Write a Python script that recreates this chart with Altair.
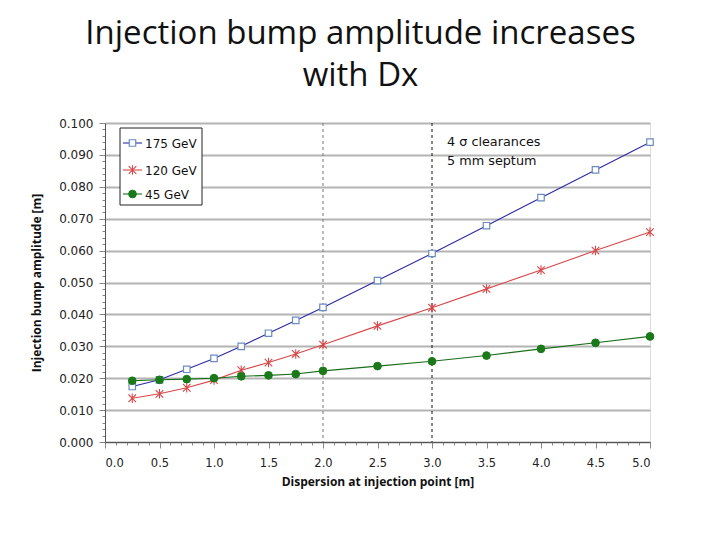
import altair as alt
import pandas as pd

# ---- data ----
x_vals = [0.25, 0.5, 0.75, 1.0, 1.25, 1.5, 1.75, 2.0, 2.5, 3.0, 3.5, 4.0, 4.5, 5.0]
gev175 = [0.0174, 0.0195, 0.0228, 0.0262, 0.0300, 0.0341, 0.0381, 0.0422, 0.0506, 0.0591, 0.0678, 0.0766, 0.0853, 0.0940]
gev120 = [0.0137, 0.0151, 0.0170, 0.0194, 0.0225, 0.0249, 0.0276, 0.0305, 0.0364, 0.0421, 0.0480, 0.0539, 0.0600, 0.0658]
gev45 = [0.0192, 0.0195, 0.0197, 0.0200, 0.0206, 0.0209, 0.0213, 0.0223, 0.0238, 0.0253, 0.0271, 0.0292, 0.0311, 0.0331]
series_names = ["175 GeV", "120 GeV", "45 GeV"]
series_values = [gev175, gev120, gev45]

vline_x = [2.0, 3.0]
vline_colors = ["#777777", "#111111"]

annotation_lines = ["4 σ clearances", "5 mm septum"]
title_lines = ["Injection bump amplitude increases", "with Dx"]

y_ticks = [round(i * 0.002, 3) for i in range(51)]
x_ticks = [round(i * 0.1, 1) for i in range(51)]

# ---- styles ----
STAR = "M0,-1L0,1M-0.8,-0.8L0.8,0.8M-0.8,0.8L0.8,-0.8"
styles = {
    "175 GeV": dict(line="#2a2aa8", shape="square", stroke="#6a8cc0", fill="#ffffff", size=42, filled=True, sw=1.2),
    "120 GeV": dict(line="#d84848", shape=STAR, stroke="#d84848", fill="#d84848", size=90, filled=False, sw=1.1),
    "45 GeV": dict(line="#1a6e1a", shape="circle", stroke="#1a7a1a", fill="#1a7a1a", size=60, filled=True, sw=1),
}

W, H = 545, 319
FONT = "DejaVu Sans"

x_scale = alt.Scale(domain=[0, 5], nice=False, zero=False)
y_scale = alt.Scale(domain=[0, 0.1], nice=False)

x_axis = alt.Axis(
    values=x_ticks,
    labelExpr="abs(datum.value*2 - round(datum.value*2)) < 0.01 ? format(datum.value, '.1f') : ''",
    grid=False,
    tickSize={"condition": {"test": "abs(datum.value*2 - round(datum.value*2)) < 0.01", "value": 6}, "value": 3},
    tickColor="#888888",
    domainColor="#555555",
    labelFont=FONT, labelFontSize=11.5, labelColor="#222222", labelPadding=9,
    title="Dispersion at injection point [m]",
    titleFont="Open Sans", titleFontSize=12, titleFontWeight="bold", titleColor="#111111", titlePadding=8,
)
y_axis = alt.Axis(
    values=y_ticks,
    labelExpr="abs(datum.value*100 - round(datum.value*100)) < 0.01 ? format(datum.value, '.3f') : ''",
    grid=True,
    gridColor="#b4b4b4", gridWidth=2,
    gridOpacity={"condition": {"test": "abs(datum.value*100 - round(datum.value*100)) < 0.01", "value": 1}, "value": 0},
    tickSize={"condition": {"test": "abs(datum.value*100 - round(datum.value*100)) < 0.01", "value": 6}, "value": 3},
    tickColor="#888888",
    domainColor="#555555",
    labelFont=FONT, labelFontSize=12, labelColor="#222222", labelPadding=6,
    title="Injection bump amplitude [m]",
    titleFont="Open Sans", titleFontSize=12, titleFontWeight="bold", titleColor="#111111", titlePadding=15,
)

rows = []
for name, vals in zip(series_names, series_values):
    for xv, yv in zip(x_vals, vals):
        rows.append({"series": name, "x": xv, "y": yv})
df = pd.DataFrame(rows)

base = alt.Chart(df)


def point_mark(chart, st):
    if st["filled"]:
        return chart.mark_point(shape=st["shape"], size=st["size"], filled=True,
                                stroke=st["stroke"], fill=st["fill"], strokeWidth=st["sw"], opacity=1)
    return chart.mark_point(shape=st["shape"], size=st["size"], filled=False,
                            stroke=st["stroke"], strokeWidth=st["sw"], opacity=1)


layers = []
# vertical dashed reference lines
vdf = pd.DataFrame({"x": vline_x, "c": vline_colors})
layers.append(
    alt.Chart(vdf).mark_rule(strokeDash=[3, 3], strokeWidth=1).encode(
        x=alt.X("x:Q", scale=x_scale, axis=x_axis),
        color=alt.Color("c:N", scale=None),
    )
)

for name in series_names:
    st = styles[name]
    sub = base.transform_filter(alt.datum.series == name)
    layers.append(
        sub.mark_line(color=st["line"], strokeWidth=1.1).encode(
            x=alt.X("x:Q", scale=x_scale, axis=x_axis),
            y=alt.Y("y:Q", scale=y_scale, axis=y_axis),
        )
    )
for name in series_names:
    st = styles[name]
    sub = base.transform_filter(alt.datum.series == name)
    layers.append(
        point_mark(sub, st).encode(
            x=alt.X("x:Q", scale=x_scale, axis=x_axis),
            y=alt.Y("y:Q", scale=y_scale, axis=y_axis),
        )
    )

# ---- manual legend ----
one = pd.DataFrame({"a": [0]})
layers.append(
    alt.Chart(one).mark_rect(fill="white", stroke="#222222", strokeWidth=1).encode(
        x=alt.value(15), x2=alt.value(97), y=alt.value(5), y2=alt.value(82)
    )
)
legend_y = [20, 47, 71]
for name, ly in zip(series_names, legend_y):
    st = styles[name]
    ldf = pd.DataFrame({"label": [name]})
    layers.append(
        alt.Chart(ldf).mark_rule(color=st["line"], strokeWidth=1.1).encode(
            x=alt.value(18), x2=alt.value(37), y=alt.value(ly)
        )
    )
    layers.append(point_mark(alt.Chart(ldf), st).encode(x=alt.value(27.5), y=alt.value(ly)))
    layers.append(
        alt.Chart(ldf).mark_text(align="left", baseline="middle", font=FONT, fontSize=12, color="#111111").encode(
            x=alt.value(40), y=alt.value(ly + 1), text="label:N"
        )
    )

# ---- annotation ----
adf = pd.DataFrame({"t": annotation_lines, "yy": [19, 38]})
layers.append(
    alt.Chart(adf).mark_text(align="left", baseline="middle", font=FONT, fontSize=12.8, color="#111111").encode(
        x=alt.value(342), y=alt.Y("yy:Q", scale=None), text="t:N"
    )
)

chart = alt.layer(*layers).properties(
    width=W, height=H,
    title=alt.TitleParams(
        text=title_lines, font="Open Sans", fontSize=33, fontWeight="normal", color="#111111",
        anchor="middle", dx=-17, offset=24, lineHeight=42,
    ),
    autosize=alt.AutoSizeParams(type="none"),
    padding={"left": 97, "top": 115, "right": 60, "bottom": 80},
).configure_view(stroke="#555555", strokeWidth=1.5).configure(background="white")

chart.save("out.html", embed_options={"renderer": "svg", "actions": False})
